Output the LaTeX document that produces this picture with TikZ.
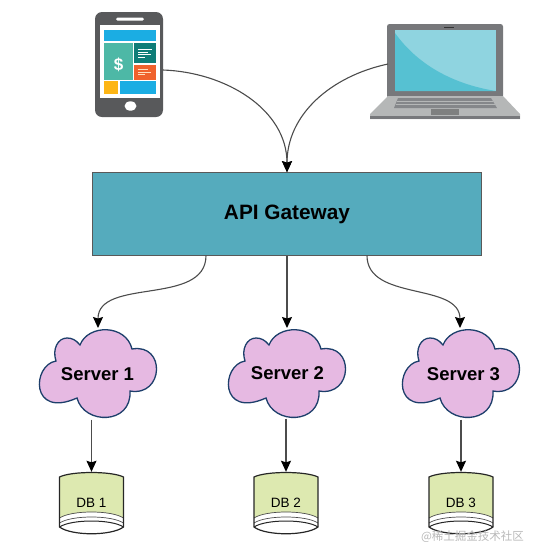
\documentclass[tikz,border=0pt]{standalone}
\usepackage{fontspec}
\setmainfont{Liberation Sans}
\newfontfamily\cjkfont{Noto Sans CJK SC}
\usetikzlibrary{arrows.meta}

\definecolor{gatewayfill}{HTML}{55ABBD}
\definecolor{cloudfill}{HTML}{E6B9E2}
\definecolor{cloudline}{HTML}{1D3F6B}
\definecolor{dbfill}{HTML}{DDE9B0}
\definecolor{phonegray}{HTML}{58595B}
\definecolor{tileblue}{HTML}{1BADE3}
\definecolor{tilegreen}{HTML}{4DB8A6}
\definecolor{tileteal}{HTML}{0F7D78}
\definecolor{tileorange}{HTML}{F0622D}
\definecolor{tileyellow}{HTML}{FDB515}
\definecolor{lidgray}{HTML}{77787B}
\definecolor{basegray}{HTML}{B5B7B7}
\definecolor{keygray}{HTML}{85878A}
\definecolor{screenlight}{HTML}{8FD4E0}
\definecolor{screendark}{HTML}{56C1D2}

\tikzset{
  servercloud/.pic={
    \draw[cloudline,fill=cloudfill,line width=1.3pt]
      (-42,-12) .. controls (-66,-8) and (-68,46) .. (-21,25)
      .. controls (-14,52) and (34,52) .. (32,18)
      .. controls (66,24) and (68,-30) .. (34,-24)
      .. controls (28,-49) and (-10,-49) .. (-18,-28)
      .. controls (-22,-33) and (-26,-35) .. (-31,-35)
      .. controls (-40,-35) and (-46,-24) .. (-42,-12) -- cycle;
  },
  dbdrum/.pic={
    \fill[white] (-32,-26) rectangle (32,25) (-32,25) .. controls (-20,32) and (20,32) .. (32,25) -- cycle;
    \fill[dbfill] (-32,-26) .. controls (-20,-32) and (20,-32) .. (32,-26)
      -- (32,15) .. controls (20,7) and (-20,7) .. (-32,15) -- cycle;
    \draw[line width=.7pt,black!70] (-32,15) .. controls (-20,7) and (20,7) .. (32,15);
    \draw[line width=.7pt,black!70] (-32,20) .. controls (-20,12) and (20,12) .. (32,20);
    \draw[line width=1pt,black!85] (-32,24) .. controls (-20,16) and (20,16) .. (32,24);
    \draw[line width=1.2pt,black!85] (-32,-26) .. controls (-20,-32) and (20,-32) .. (32,-26)
      -- (32,24) .. controls (20,33) and (-20,33) .. (-32,24) -- cycle;
  }
}

\begin{document}
\begin{tikzpicture}[
    x=1pt,y=-1pt,
    gatewaybox/.style={draw=black!65,fill=gatewayfill,line width=.7pt,minimum width=389pt,
      minimum height=83pt,inner sep=0pt,font=\fontsize{20.8}{24}\selectfont\bfseries},
    serverlabel/.style={minimum width=110pt,minimum height=91pt,inner sep=0pt,
      font=\fontsize{18.5}{22}\selectfont\bfseries},
    dblabel/.style={minimum width=64pt,minimum height=61pt,inner sep=0pt,
      text depth=0pt,font=\fontsize{13.5}{16}\selectfont},
    flow/.style={-{Stealth[black,length=11pt,width=10pt,inset=1.5pt]},line width=1.1pt,black!70}
  ]
    \useasboundingbox (0,0) rectangle (538,558);
    % phone
    \node[fill=phonegray,rounded corners=7pt,minimum width=68pt,minimum height=105pt,inner sep=0pt] (phone) at (129,64.5) {};
    \fill[white] (99.5,25) rectangle (160,98);
    \fill[white,rounded corners=1.5pt] (116,17.5) rectangle (144,20.5);
    \fill[white] (130.5,106) ellipse (6 and 4.7);
    \fill[tileblue] (104,29.5) rectangle (155.5,41);
    \fill[tilegreen] (104,42.5) rectangle (132.5,80);
    \fill[tileteal] (134,42.5) rectangle (155.5,62.5);
    \fill[tileorange] (134,64.5) rectangle (155.5,80);
    \fill[tileyellow] (104,81) rectangle (117.5,94);
    \fill[tileblue] (119.5,81) rectangle (155.5,94);
    \draw[white,line width=.7pt] (138,49.5) -- (152,49.5) (138,52) -- (148,52) (138,54.5) -- (151,54.5) (138,57) -- (145,57);
    \draw[white!75!orange,line width=.7pt] (138,69.5) -- (148,69.5) (138,72) -- (151,72) (138,74.5) -- (145,74.5);
    \node[white,inner sep=0pt,font=\fontsize{17}{20}\selectfont\bfseries] (dollar) at (118.5,64.5) {\$};
    % laptop
    \node[fill=lidgray,rounded corners=2.5pt,minimum width=116pt,minimum height=74pt,inner sep=0pt] (laptop) at (445,61) {};
    \fill[basegray] (388,96) -- (503,96) -- (520,114) -- (520,119) -- (370,119) -- (370,114) -- cycle;
    \fill[lidgray] (370,116) rectangle (520,119);
    \fill[keygray] (398,98) -- (491,98) -- (497,108) -- (394,108) -- cycle;
    \draw[basegray,line width=.6pt] (397,101) -- (493,101) (395.5,104.5) -- (495,104.5);
    \fill[black!30!basegray] (431,109) rectangle (459,115);
    \fill[screenlight] (395,30) rectangle (496,91);
    \fill[screendark] (395,33) .. controls (420,68) and (458,85) .. (496,91) -- (395,91) -- cycle;
    \fill[black!80] (444,26.5) rectangle (454,28);
    % gateway
    \node[gatewaybox] (gateway) at (287,214) {API Gateway};
    % servers
    \pic at (98,373) {servercloud};
    \pic at (287,373) {servercloud};
    \pic at (461,373) {servercloud};
    \node[serverlabel] (server1) at (97.5,374) {Server 1};
    \node[serverlabel] (server2) at (287.5,373) {Server 2};
    \node[serverlabel] (server3) at (463.5,374) {Server 3};
    % databases
    \pic at (91.5,503) {dbdrum};
    \pic at (286,503) {dbdrum};
    \pic at (461,503) {dbdrum};
    \node[dblabel] (db1) at (91.5,502.5) {DB 1};
    \node[dblabel] (db2) at (286,502.5) {DB 2};
    \node[dblabel] (db3) at (461,502.5) {DB 3};
    % connectors
    \coordinate (phoneport) at (163,70);
    \coordinate (laptopport) at (388,64);
    \coordinate (gatewayleft) at (206,255.5);
    \coordinate (gatewayright) at (367,255.5);
    \coordinate (serverleft) at (98,328);
    \coordinate (servermid) at (287,328);
    \coordinate (serverright) at (460,328);
    \draw[flow] (phoneport) to[out=-2,in=90] (gateway.north);
    \draw[flow] (laptopport) to[out=192,in=90] (gateway.north);
    \draw[flow] (gatewayleft) to[out=-90,in=90] (serverleft);
    \draw[flow] (gateway.south) -- (servermid);
    \draw[flow] (gatewayright) to[out=-90,in=90] (serverright);
    \draw[flow] (server1.south -| db1.north) -- (db1.north);
    \draw[flow] (server2.south -| db2.north) -- (db2.north);
    \draw[flow] (server3.south -| db3.north) -- (db3.north);
    % watermark
    \node[black!28,inner sep=0pt,font=\fontsize{11.5}{14}\cjkfont] (mark) at (472.5,537) {@稀土掘金技术社区};
  \end{tikzpicture}
\end{document}
